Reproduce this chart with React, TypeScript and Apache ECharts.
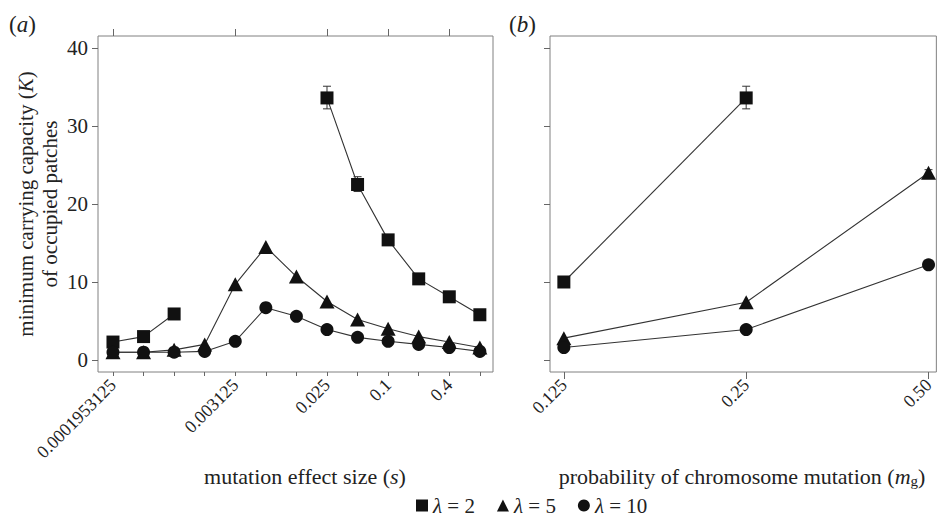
import React, { useEffect, useRef } from "react";
import * as echarts from "echarts";

// Panel (a): mutation effect size s (log2-spaced)
const sLabels = [
  "0.0001953125", "0.000390625", "0.00078125", "0.0015625", "0.003125", "0.00625",
  "0.0125", "0.025", "0.05", "0.1", "0.2", "0.4", "0.8",
];
const sShown = [0, 4, 7, 9, 11];
const lambda2A: (number | null)[] = [2.3, 3.0, 5.9, null, null, null, null, 33.6, 22.5, 15.4, 10.4, 8.1, 5.8];
const lambda5A: (number | null)[] = [1.0, 1.0, 1.3, 2.0, 9.7, 14.5, 10.7, 7.5, 5.2, 4.0, 3.0, 2.3, 1.6];
const lambda10A: (number | null)[] = [1.0, 1.0, 1.0, 1.1, 2.4, 6.7, 5.6, 3.9, 2.9, 2.4, 2.0, 1.6, 1.1];
// error bars [index, low, high]
const errA = [[7, 32.2, 35.1], [8, 21.6, 23.5], [9, 14.9, 15.9]];

// Panel (b): probability of chromosome mutation
const mgLabels = ["0.125", "0.25", "0.50"];
const lambda2B: (number | null)[] = [10.0, 33.6, null];
const lambda5B: (number | null)[] = [2.8, 7.4, 24.0];
const lambda10B: (number | null)[] = [1.6, 3.9, 12.2];
const errB = [[1, 32.2, 35.1], [2, 23.6, 24.4]];

const yTicks = [0, 10, 20, 30, 40];

const FONT = "Liberation Serif";
const TXT = "#222";
const AX = "#666";

const toPairs = (arr: (number | null)[]) => arr.map((v, i) => [i, v == null ? "-" : v]);

export default function App() {
  const ref = useRef<HTMLDivElement>(null);
  useEffect(() => {
    if (!ref.current) return;
    const chart = echarts.init(ref.current, null, { renderer: "svg" });

    const lineStyle = { color: "#333", width: 1.1 };
    const itemStyle = { color: "#111" };
    const mk = (name: string, data: (number | null)[], symbol: string, size: any, xi: number, yi: number) => ({
      type: "line",
      name,
      data: toPairs(data),
      xAxisIndex: xi,
      yAxisIndex: yi,
      symbol,
      symbolSize: size,
      showSymbol: true,
      lineStyle,
      itemStyle,
      connectNulls: false,
      z: 3,
    });
    const errSeries = (data: number[][], xi: number, yi: number) => ({
      type: "custom",
      xAxisIndex: xi,
      yAxisIndex: yi,
      data,
      z: 1,
      silent: true,
      renderItem: (params: any, api: any) => {
        const x = api.value(0);
        const lo = api.coord([x, api.value(1)]);
        const hi = api.coord([x, api.value(2)]);
        const hw = 4;
        const st = { stroke: "#333", lineWidth: 1 };
        return {
          type: "group",
          children: [
            { type: "line", shape: { x1: lo[0], y1: lo[1], x2: hi[0], y2: hi[1] }, style: st },
            { type: "line", shape: { x1: lo[0] - hw, y1: lo[1], x2: lo[0] + hw, y2: lo[1] }, style: st },
            { type: "line", shape: { x1: hi[0] - hw, y1: hi[1], x2: hi[0] + hw, y2: hi[1] }, style: st },
          ],
        };
      },
    });

    const yBase = (showLabels: boolean, gi: number) => ({
      type: "value",
      gridIndex: gi,
      min: -1.54,
      max: 41.54,
      axisLine: { show: false, onZero: false },
      splitLine: { show: false },
      axisTick: { show: true, customValues: yTicks, length: 6, lineStyle: { color: AX } },
      axisLabel: {
        show: showLabels,
        customValues: yTicks,
        fontFamily: FONT,
        fontSize: 21,
        color: TXT,
        margin: 10,
      },
    });

    const option: any = {
      animation: false,
      backgroundColor: "#fff",
      grid: [
        { left: 98, top: 36, width: 395, height: 336, show: true, borderColor: "#808080", borderWidth: 1 },
        { left: 550, top: 36, width: 390, height: 336, show: true, borderColor: "#808080", borderWidth: 1 },
      ],
      xAxis: [
        {
          type: "value",
          gridIndex: 0,
          min: -0.49,
          max: 12.43,
          axisLine: { show: false, onZero: false },
          splitLine: { show: false },
          axisTick: { show: true, customValues: sLabels.map((_, i) => i), length: 4, lineStyle: { color: AX } },
          axisLabel: {
            customValues: sShown,
            formatter: (v: number) => sLabels[Math.round(v)],
            rotate: 45,
            fontFamily: FONT,
            fontSize: 18,
            color: TXT,
            margin: 10,
          },
        },
        {
          type: "value",
          gridIndex: 0,
          min: -0.49,
          max: 12.43,
          axisLine: { show: false, onZero: false },
          splitLine: { show: false },
          axisTick: { show: true, customValues: sShown, length: 7, lineStyle: { color: AX } },
          axisLabel: { show: false },
        },
        {
          type: "value",
          gridIndex: 1,
          min: -0.076,
          max: 2.043,
          axisLine: { show: false, onZero: false },
          splitLine: { show: false },
          axisTick: { show: true, customValues: [0, 1, 2], length: 7, lineStyle: { color: AX } },
          axisLabel: {
            customValues: [0, 1, 2],
            formatter: (v: number) => mgLabels[Math.round(v)],
            rotate: 45,
            fontFamily: FONT,
            fontSize: 18,
            color: TXT,
            margin: 10,
          },
        },
      ],
      yAxis: [yBase(true, 0), yBase(false, 1)],
      legend: {
        left: 411,
        top: 490,
        itemWidth: 12,
        itemHeight: 12,
        itemGap: 22,
        data: [
          { name: "λ = 2", icon: "rect" },
          { name: "λ = 5", icon: "triangle" },
          { name: "λ = 10", icon: "circle" },
        ],
        formatter: (name: string) => `{i|λ}{n|${name.slice(1)}}`,
        textStyle: {
          fontFamily: FONT,
          fontSize: 21,
          color: TXT,
          rich: {
            i: { fontFamily: FONT, fontSize: 21, fontStyle: "italic", color: TXT },
            n: { fontFamily: FONT, fontSize: 21, color: TXT },
          },
        },
        selectedMode: false,
      },
      series: [
        errSeries(errA, 0, 0),
        errSeries(errB, 2, 1),
        mk("λ = 2", lambda2A, "rect", 13, 0, 0),
        mk("λ = 5", lambda5A, "triangle", [15, 14], 0, 0),
        mk("λ = 10", lambda10A, "circle", 13, 0, 0),
        mk("λ = 2", lambda2B, "rect", 13, 2, 1),
        mk("λ = 5", lambda5B, "triangle", [15, 14], 2, 1),
        mk("λ = 10", lambda10B, "circle", 13, 2, 1),
      ],
      graphic: [
        {
          type: "text",
          left: 9,
          top: 13,
          style: {
            text: "({i|a})",
            fontFamily: FONT,
            fontSize: 23,
            fill: TXT,
            rich: { i: { fontFamily: FONT, fontSize: 23, fontStyle: "italic", fill: TXT } },
          },
        },
        {
          type: "text",
          left: 509,
          top: 13,
          style: {
            text: "({i|b})",
            fontFamily: FONT,
            fontSize: 23,
            fill: TXT,
            rich: { i: { fontFamily: FONT, fontSize: 23, fontStyle: "italic", fill: TXT } },
          },
        },
        {
          type: "text",
          x: 26,
          y: 204,
          rotation: Math.PI / 2,
          style: {
            text: "minimum carrying capacity ({i|K})",
            fontFamily: FONT,
            fontSize: 21,
            fill: TXT,
            align: "center",
            verticalAlign: "middle",
            rich: { i: { fontFamily: FONT, fontSize: 21, fontStyle: "italic", fill: TXT } },
          },
        },
        {
          type: "text",
          x: 50,
          y: 204,
          rotation: Math.PI / 2,
          style: {
            text: "of occupied patches",
            fontFamily: FONT,
            fontSize: 21,
            fill: TXT,
            align: "center",
            verticalAlign: "middle",
          },
        },
        {
          type: "text",
          x: 305,
          y: 476,
          style: {
            text: "mutation effect size ({i|s})",
            fontFamily: FONT,
            fontSize: 22,
            fill: TXT,
            align: "center",
            verticalAlign: "middle",
            rich: { i: { fontFamily: FONT, fontSize: 22, fontStyle: "italic", fill: TXT } },
          },
        },
        {
          type: "text",
          x: 742,
          y: 476,
          style: {
            text: "probability of chromosome mutation ({i|m}{sub|g})",
            fontFamily: FONT,
            fontSize: 22,
            fill: TXT,
            align: "center",
            verticalAlign: "middle",
            rich: {
              i: { fontFamily: FONT, fontSize: 22, fontStyle: "italic", fill: TXT },
              sub: { fontFamily: FONT, fontSize: 15, fill: TXT, verticalAlign: "bottom", padding: [9, 0, 0, 0] },
            },
          },
        },
      ],
    };
    chart.setOption(option);
    return () => chart.dispose();
  }, []);
  return (
    <div
      ref={ref}
      style={{ position: "fixed", left: 0, top: 0, width: 937, height: 518, background: "#fff" }}
    />
  );
}
